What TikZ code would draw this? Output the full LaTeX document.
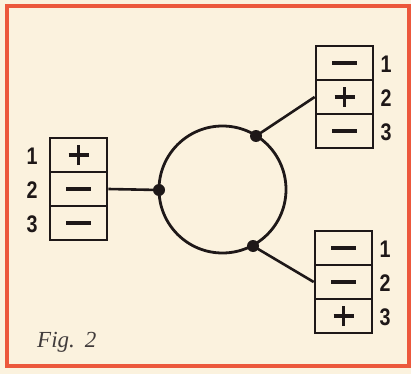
\documentclass[tikz,border=0pt]{standalone}
\usepackage{fontspec}
\setmainfont{Liberation Serif}
\newfontfamily\lblfont{Liberation Sans}
\definecolor{paper}{RGB}{251,242,222}
\definecolor{frame}{RGB}{236,88,60}
\definecolor{ink}{RGB}{30,24,24}
\newcommand{\numtxt}[1]{\scalebox{0.82}[1]{#1}}
\begin{document}
\begin{tikzpicture}[x=1pt,y=-1pt,
  cell/.style={draw=ink, line width=2.6pt, minimum width=57pt, minimum height=34pt, inner sep=0pt},
  sign/.style={draw=ink, line width=3.4pt},
  num/.style={text=ink, font=\lblfont\bfseries\fontsize{24}{24}\selectfont, inner sep=0pt},
  wire/.style={draw=ink, line width=2.6pt},
  dot/.style={circle, fill=ink, minimum size=12pt, inner sep=0pt}]
\fill[paper] (0,0) rectangle (411,374);
\useasboundingbox (0,0) rectangle (411,374);
\draw[frame, line width=4pt] (7,6) rectangle (408.5,366);
% circle
\node[draw=ink, line width=2.8pt, circle, minimum size=127pt, inner sep=0pt] (ring) at (222.5,189.5) {};
\node[dot] (dl) at (159,190) {};
\node[dot] (dt) at (256,136) {};
\node[dot] (db) at (253,246) {};
% left box
\node[cell] (l1) at (78.5,155) {};
\node[cell] (l2) at (78.5,189) {};
\node[cell] (l3) at (78.5,223) {};
% top-right box
\node[cell] (t1) at (344.5,63) {};
\node[cell] (t2) at (344.5,97) {};
\node[cell] (t3) at (344.5,131) {};
% bottom-right box
\node[cell] (b1) at (343.5,248) {};
\node[cell] (b2) at (343.5,282) {};
\node[cell] (b3) at (343.5,316) {};
% signs
\foreach \c in {l2,l3,t1,t3,b1,b2} {
  \draw[sign] ([xshift=-12.5pt]\c.center) -- ([xshift=12.5pt]\c.center);
}
\foreach \c in {l1,t2,b3} {
  \draw[sign] ([xshift=-10pt]\c.center) -- ([xshift=10pt]\c.center);
  \draw[sign] ([yshift=-10pt]\c.center) -- ([yshift=10pt]\c.center);
}
% wires
\draw[wire] (l2.east) -- (dl.center);
\draw[wire] (dt.center) -- (t2.west);
\draw[wire] (db.center) -- (b2.west);
% numbers
\node[num] (nl1) at (32,156) {\numtxt{1}};
\node[num] (nl2) at (32,190) {\numtxt{2}};
\node[num] (nl3) at (32,224) {\numtxt{3}};
\node[num] (nt1) at (386,64) {\numtxt{1}};
\node[num] (nt2) at (386,98) {\numtxt{2}};
\node[num] (nt3) at (386,132) {\numtxt{3}};
\node[num] (nb1) at (385,249) {\numtxt{1}};
\node[num] (nb2) at (385,283) {\numtxt{2}};
\node[num] (nb3) at (385,317) {\numtxt{3}};
\node[anchor=base west, inner sep=0pt, text=ink!85, font=\itshape\fontsize{23}{23}\selectfont] (fig) at (37,347) {Fig.\hspace{10pt}2};
\end{tikzpicture}
\end{document}
